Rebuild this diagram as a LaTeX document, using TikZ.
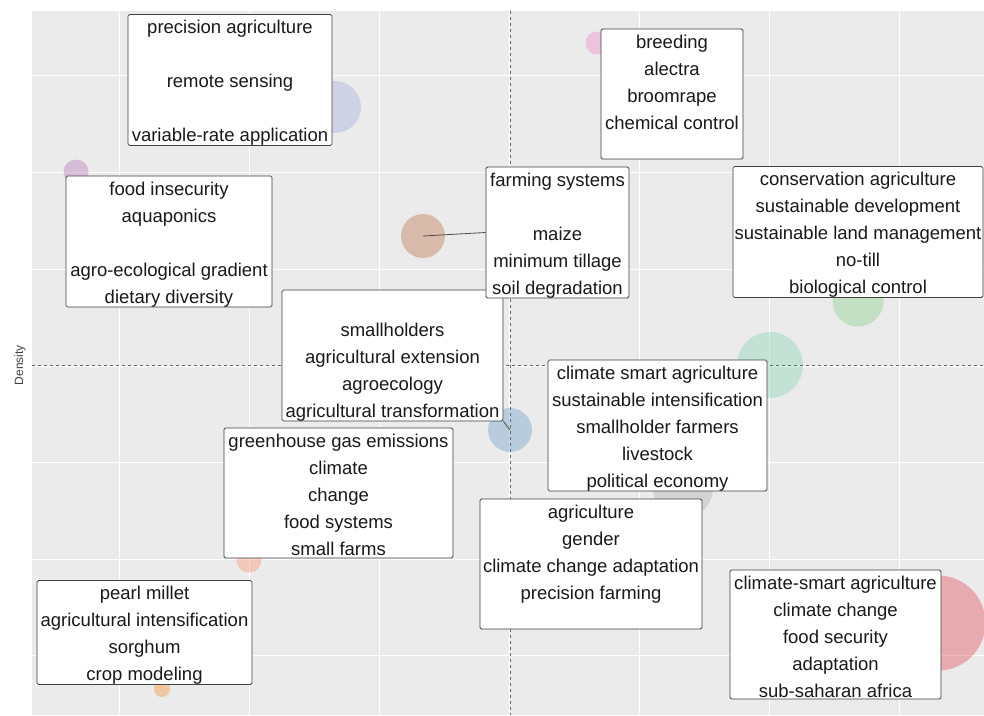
\documentclass[tikz,border=0pt]{standalone}
\usepackage{fontspec}
\setmainfont{Liberation Sans}
\usepackage{tikz}

\definecolor{panelbg}{RGB}{235,235,235}
\definecolor{clav}{RGB}{142,155,215}
\definecolor{cpurple}{RGB}{165,85,172}
\definecolor{cbrown}{RGB}{172,75,18}
\definecolor{cpink}{RGB}{238,105,192}
\definecolor{cgreen}{RGB}{105,198,108}
\definecolor{cteal}{RGB}{108,205,168}
\definecolor{cblue}{RGB}{72,135,192}
\definecolor{cgrey}{RGB}{158,158,158}
\definecolor{csalmon}{RGB}{252,118,72}
\definecolor{corange}{RGB}{252,118,0}
\definecolor{cred}{RGB}{225,25,38}

% line strut for the label boxes
\newcommand\kst{\vrule height 19pt depth 2pt width 0pt}

\tikzset{
	kbox/.style={draw=black!75, fill=white, rounded corners=1.5pt, line width=0.8pt, inner sep=0pt,
		align=center, text=black!90, font=\fontsize{18.5}{27}\selectfont},
	bub/.style={circle, draw=none, inner sep=0pt, fill opacity=0.3},
	grid line/.style={white, line width=0.8pt},
	mid line/.style={black!60, dash pattern=on 3pt off 3pt, line width=0.6pt},
	leader/.style={black!70, line width=0.8pt}
}

\begin{document}
\begin{tikzpicture}[x=1pt, y=-1pt]
		\useasboundingbox (0,0) rectangle (984,715);
		\fill[panelbg] (32,11) rectangle (984,715);

		\foreach \x in {119, 249, ..., 899}
			\draw[grid line] (\x,11) -- (\x,715);
		\foreach \y in {75, 172, 269, 366, 462, 559, 655}
			\draw[grid line] (32,\y) -- (984,\y);

		% clusters
		\node[bub, fill=clav, minimum size=52] (blav) at (335,107) {};
		\node[bub, fill=cpurple, minimum size=25] (bpurple) at (76,172) {};
		\node[bub, fill=cbrown, minimum size=44] (bbrown) at (423,236) {};
		\node[bub, fill=cpink, minimum size=23] (bpink) at (597,43) {};
		\node[bub, fill=cgreen, minimum size=51] (bgreen) at (858,301) {};
		\node[bub, fill=cteal, minimum size=66] (bteal) at (770,365) {};
		\node[bub, fill=cblue, minimum size=44] (bblue) at (510,430) {};
		\node[bub, fill=cgrey, minimum size=60] (bgrey) at (683,488) {};
		\node[bub, fill=csalmon, minimum size=25] (bsalmon) at (249,560) {};
		\node[bub, fill=corange, minimum size=16] (borange) at (162,689) {};
		\node[bub, fill=cred, minimum size=95] (bred) at (938,623) {};

		\draw[mid line] (32,365) -- (984,365);
		\draw[mid line] (510,11) -- (510,715);

		\node[rotate=90, text=black!75, font=\fontsize{12}{14}\selectfont] (ylab) at (20,365) {Density};

		% labels
		\node[kbox, minimum width=204, minimum height=130] (prec) at (230,80)
			{\kst precision agriculture\\\kst\\\kst remote sensing\\\kst\\\kst variable-rate application};
		\node[kbox, minimum width=206, minimum height=129] (food) at (169,241.5)
			{\kst food insecurity\\\kst aquaponics\\\kst\\\kst agro-ecological gradient\\\kst dietary diversity};
		\node[kbox, minimum width=142, minimum height=130] (breed) at (672,94)
			{\kst breeding\\\kst alectra\\\kst broomrape\\\kst chemical control\\\kst};
		\node[kbox, minimum width=250, minimum height=130] (cons) at (858,232)
			{\kst conservation agriculture\\\kst sustainable development\\\kst sustainable land management\\\kst no-till\\\kst biological control};
		\node[kbox, minimum width=221, minimum height=129] (small) at (392.5,355.5)
			{\kst\\\kst smallholders\\\kst agricultural extension\\\kst agroecology\\\kst agricultural transformation};
		\node[kbox, minimum width=143, minimum height=131] (farm) at (557.5,232.5)
			{\kst farming systems\\\kst\\\kst maize\\\kst minimum tillage\\\kst soil degradation};
		\node[kbox, minimum width=219, minimum height=129] (csa) at (657.5,425.5)
			{\kst climate smart agriculture\\\kst sustainable intensification\\\kst smallholder farmers\\\kst livestock\\\kst political economy};
		\node[kbox, minimum width=229, minimum height=130] (ghg) at (338.5,493)
			{\kst greenhouse gas emissions\\\kst climate\\\kst change\\\kst food systems\\\kst small farms};
		\node[kbox, minimum width=222, minimum height=130] (agri) at (591,564)
			{\kst agriculture\\\kst gender\\\kst climate change adaptation\\\kst precision farming\\\kst};
		\node[kbox, minimum width=215, minimum height=103] (pearl) at (144.5,632.5)
			{\kst pearl millet\\\kst agricultural intensification\\\kst sorghum\\\kst crop modeling};
		\node[kbox, minimum width=211, minimum height=129] (cs) at (835.5,634.5)
			{\kst climate-smart agriculture\\\kst climate change\\\kst food security\\\kst adaptation\\\kst sub-saharan africa};

		\draw[leader] (bbrown.center) -- (farm.west);
		\draw[leader] (small.south east) -- (bblue.center);

	\end{tikzpicture}
\end{document}
